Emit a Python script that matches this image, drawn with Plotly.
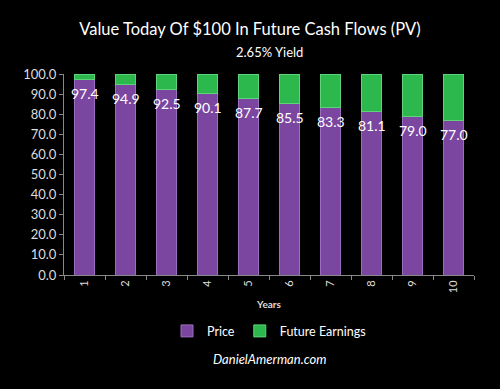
import plotly.graph_objects as go

years = ["1", "2", "3", "4", "5", "6", "7", "8", "9", "10"]
price = [97.4, 94.9, 92.5, 90.1, 87.7, 85.5, 83.3, 81.1, 79.0, 77.0]
future_earnings = [round(100 - p, 1) for p in price]
y_ticks = [0, 10, 20, 30, 40, 50, 60, 70, 80, 90, 100]

FONT = "Lato, 'Open Sans', sans-serif"
PURPLE = "#7A46A0"
GREEN = "#2DB84D"

fig = go.Figure()
fig.add_trace(go.Bar(x=years, y=price, name="Price", marker=dict(color=PURPLE, line=dict(color="#9C6CC0", width=1))))
fig.add_trace(go.Bar(x=years, y=future_earnings, name="Future Earnings", marker=dict(color=GREEN, line=dict(color="#5FD37A", width=1))))

for i, p in enumerate(price):
    fig.add_annotation(x=i, y=p, text=f"{p:.1f}", showarrow=False, yshift=-14,
                       font=dict(color="white", size=14, family=FONT))

fig.add_annotation(x=0.5, y=1.11, xref="paper", yref="paper", text="2.65% Yield", showarrow=False,
                   font=dict(color="white", size=13, family=FONT), yanchor="middle")
fig.add_annotation(x=0.5, y=-0.42, xref="paper", yref="paper", text="<i>DanielAmerman.com</i>", showarrow=False,
                   font=dict(color="white", size=13, family=FONT), xanchor="center", yanchor="middle")

fig.update_layout(
    barmode="stack",
    bargap=0.5,
    width=500, height=389,
    paper_bgcolor="black", plot_bgcolor="black",
    margin=dict(l=64, r=26, t=74, b=114),
    title=dict(text="Value Today Of $100 In Future Cash Flows (PV)", x=0.5, xanchor="center",
               y=0.925, yanchor="middle", font=dict(color="white", size=16.5, family=FONT)),
    font=dict(family=FONT, color="white"),
    showlegend=True,
    legend=dict(orientation="h", x=0.5, xanchor="center", xref="paper", y=-0.28, yanchor="middle",
                traceorder="normal", itemwidth=30,
                font=dict(color="white", size=12.5, family=FONT), bgcolor="rgba(0,0,0,0)"),
    xaxis=dict(tickangle=-90, tickfont=dict(color="#dddddd", size=11, family=FONT),
               showline=True, linecolor="#888888", ticks="outside", tickcolor="#888888", ticklen=4,
               tickson="boundaries", showgrid=False,
               title=dict(text="<b>Years</b>", font=dict(color="#dddddd", size=10, family=FONT), standoff=8)),
    yaxis=dict(range=[0, 100], tickvals=y_ticks, ticktext=[f"{v:.1f}" for v in y_ticks],
               tickfont=dict(color="#dddddd", size=13, family=FONT),
               showline=True, linecolor="#888888", ticks="outside", tickcolor="#888888", ticklen=4,
               showgrid=False, zeroline=False),
)

fig.write_html("out.html", config={"displayModeBar": False},
               post_script="document.body.style.margin='0';document.body.style.background='black';")
